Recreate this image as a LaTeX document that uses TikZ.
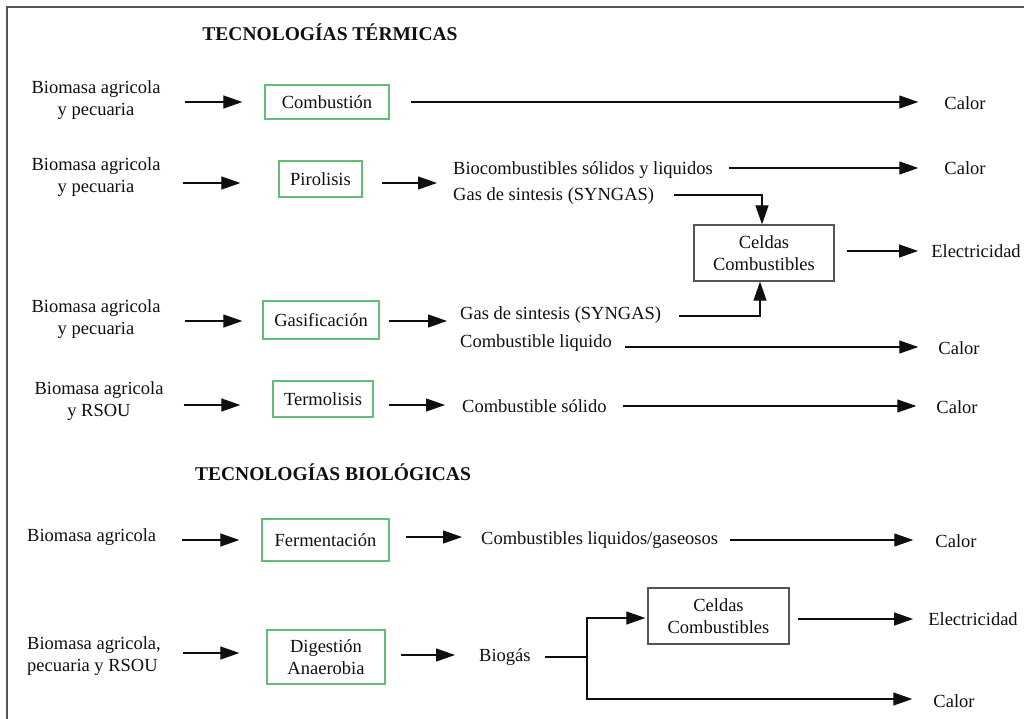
\documentclass[tikz,border=0pt]{standalone}
\usepackage{fontspec}
\setmainfont{Liberation Serif}
\usetikzlibrary{arrows.meta}
\definecolor{procgreen}{RGB}{96,190,118}
\definecolor{cellgray}{RGB}{85,85,85}
\definecolor{ink}{RGB}{15,15,15}
\tikzset{
  txt/.style={inner sep=0pt, text=ink, font=\fontsize{18.5}{22}\selectfont},
  title/.style={txt, font=\fontsize{19.5}{22}\selectfont\bfseries},
  proc/.style={txt, draw=procgreen, line width=1.3pt, align=center},
  cell/.style={txt, draw=cellgray, line width=1.3pt, align=center},
  arr/.style={-{Triangle[length=19pt,width=13pt]}, line width=1.2pt, draw=ink},
  wire/.style={line width=1.2pt, draw=ink},
  frame/.style={line width=1.3pt, draw=cellgray}
}
\begin{document}
\begin{tikzpicture}[x=1pt,y=-1pt]
\useasboundingbox (0,0) rectangle (1024,719);
% outer frame (top and left edges)
\draw[frame] (1024,7) -- (7,7) -- (7,719);

% ---------- thermal technologies ----------
\node[title] (t1) at (330,32) {TECNOLOGÍAS TÉRMICAS};

% combustion
\node[txt, align=center] (in1) at (96,100) {Biomasa agricola\\y pecuaria};
\node[proc, minimum width=124pt, minimum height=34pt] (comb) at (327,102) {Combustión};
\node[txt] (calor1) at (965,103) {Calor};
\draw[arr, shorten <=24pt, shorten >=22pt] (in1.east |- comb.west) -- (comb.west);
\draw[arr, shorten <=21pt, shorten >=26pt] (comb.east) -- (comb.east -| calor1.west);

% pyrolysis
\node[txt, align=center] (in2) at (96,177) {Biomasa agricola\\y pecuaria};
\node[proc, minimum width=83pt, minimum height=36pt] (piro) at (320.5,179) {Pirolisis};
\node[txt, anchor=west] (bio1) at (453,170) {Biocombustibles sólidos y liquidos};
\node[txt, anchor=west] (syn1) at (453,196) {Gas de sintesis (SYNGAS)};
\node[txt] (calor2) at (965,168) {Calor};
\node[cell, minimum width=140pt, minimum height=56pt] (cel1) at (764,253) {Celdas\\Combustibles};
\node[txt] (elec1) at (976,251) {Electricidad};
\draw[arr, shorten <=22pt, shorten >=38pt] (in2.east |- 0,183) -- (piro.west |- 0,183);
\draw[arr, shorten <=19pt, shorten >=16pt] (piro.east |- 0,183) -- (bio1.west |- 0,183);
\draw[arr, shorten <=16pt, shorten >=26pt] (bio1.east |- calor2.west) -- (calor2.west);
\draw[arr] (syn1.east) ++(20,-1) -| ([xshift=-2pt]cel1.north);
\draw[arr, shorten <=12pt, shorten >=13pt] (cel1.east |- elec1.west) -- (elec1.west);

% gasification
\node[txt, align=center] (in3) at (96,319) {Biomasa agricola\\y pecuaria};
\node[proc, minimum width=116pt, minimum height=38pt] (gasi) at (321,320) {Gasificación};
\node[txt, anchor=west] (syn2) at (460,315) {Gas de sintesis (SYNGAS)};
\node[txt, anchor=west] (liq) at (460,343) {Combustible liquido};
\node[txt] (calor3) at (959,348) {Calor};
\draw[arr, shorten <=24pt, shorten >=20pt] (in3.east |- 0,321) -- (gasi.west |- 0,321);
\draw[arr, shorten <=9pt, shorten >=13pt] (gasi.east |- 0,321) -- (syn2.west |- 0,321);
\draw[arr] (syn2.east) ++(18,1) -| ([xshift=-4pt]cel1.south);
\draw[arr, shorten <=13pt, shorten >=20pt] (liq.east |- 0,347) -- (calor3.west |- 0,347);

% thermolysis
\node[txt, align=center] (in4) at (99,401) {Biomasa agricola\\y RSOU};
\node[proc, minimum width=100pt, minimum height=36pt] (termo) at (323,399) {Termolisis};
\node[txt, anchor=west] (sol) at (462,406) {Combustible sólido};
\node[txt] (calor4) at (957,407) {Calor};
\draw[arr, shorten <=20pt, shorten >=32pt] (in4.east |- 0,405) -- (termo.west |- 0,405);
\draw[arr, shorten <=15pt, shorten >=17pt] (termo.east |- 0,405) -- (sol.west |- 0,405);
\draw[arr, shorten <=16pt, shorten >=20pt] (sol.east |- 0,406) -- (calor4.west |- 0,406);

% ---------- biological technologies ----------
\node[title] (t2) at (333,472) {TECNOLOGÍAS BIOLÓGICAS};

% fermentation
\node[txt, anchor=west] (in5) at (27,537) {Biomasa agricola};
\node[proc, minimum width=127pt, minimum height=42pt] (ferm) at (325.5,540) {Fermentación};
\node[txt, anchor=west] (liqgas) at (481,540) {Combustibles liquidos/gaseosos};
\node[txt] (calor5) at (956,541) {Calor};
\draw[arr, shorten <=26pt, shorten >=22pt] (in5.east |- 0,540) -- (ferm.west |- 0,540);
\draw[arr, shorten <=16pt, shorten >=19pt] (ferm.east |- 0,537) -- (liqgas.west |- 0,537);
\draw[arr, shorten <=12pt, shorten >=22pt] (liqgas.east) -- (calor5.west |- liqgas.east);

% anaerobic digestion
\node[txt, anchor=west, align=left] (in6) at (27,656) {Biomasa agricola,\\pecuaria y RSOU};
\node[proc, minimum width=118pt, minimum height=54pt] (dig) at (326,657) {Digestión\\Anaerobia};
\node[txt, anchor=west] (biogas) at (479,657) {Biogás};
\node[cell, minimum width=141pt, minimum height=56pt] (cel2) at (718.5,616) {Celdas\\Combustibles};
\node[txt] (elec2) at (973,619) {Electricidad};
\node[txt] (calor6) at (954,701) {Calor};
\coordinate (split) at (587,657);
\draw[arr, shorten <=22pt, shorten >=27pt] (in6.east |- 0,653) -- (dig.west |- 0,653);
\draw[arr, shorten <=15pt, shorten >=24pt] (dig.east |- 0,655) -- (biogas.west |- 0,655);
\draw[wire, shorten <=14pt] (biogas.east) -- (split);
\draw[arr, shorten >=2pt] (split) |- ([yshift=-2pt]cel2.west);
\draw[arr, shorten >=21pt] (split) |- ([yshift=2pt]calor6.west);
\draw[arr, shorten <=8pt, shorten >=15pt] (cel2.east |- elec2.west) -- (elec2.west);
\end{tikzpicture}
\end{document}
